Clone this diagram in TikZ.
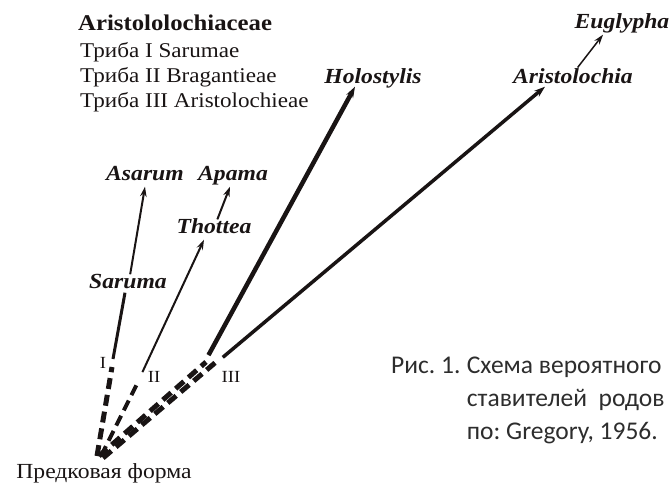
\documentclass[tikz,border=0pt]{standalone}
\usepackage{fontspec}
\setmainfont[FakeStretch=1.1]{Liberation Serif}
\newfontfamily\capfont{Carlito}
\usepackage{tikz}
\usepackage{xcolor}
\definecolor{CapGray}{RGB}{45,45,45}
\definecolor{LineBlack}{RGB}{25,20,20}
\usetikzlibrary{positioning,arrows.meta}
\frenchspacing

\begin{document}
\begin{tikzpicture}[x=1pt, y=-1pt,
    tax/.style={inner sep=2pt, text height=11pt, text depth=4pt, font=\fontsize{21.5}{24}\selectfont\bfseries\itshape, text=LineBlack},
    tr/.style={inner sep=0pt, align=left, font=\fontsize{21}{25}\selectfont, text=LineBlack},
    num/.style={inner sep=0pt, font=\fontsize{17}{18}\selectfont, text=LineBlack},
    dsh/.style={line width=5pt, dash pattern=on 11pt off 6pt, LineBlack},
    sol/.style={line width=3pt, LineBlack},
    a/.style={-{Stealth[length=10pt, width=6.5pt]}, line width=2pt, LineBlack, shorten <=1pt}
]
    \useasboundingbox (0,0) rectangle (670,485);

    % family and tribes
    \node[tr, anchor=west, font=\fontsize{22.5}{25}\selectfont\bfseries] (fam) at (78,23) {Aristololochiaceae};
    \node[tr, anchor=north west] (tribes) at (80,42) {Триба I Sarumae\\ Триба II Bragantieae\\ Триба III Aristolochieae};

    % genera
    \node[tax] (asarum) at (145,177) {Asarum};
    \node[tax] (apama) at (233,177) {Apama};
    \node[tax] (thottea) at (214,230) {Thottea};
    \node[tax] (saruma) at (128,285) {Saruma};
    \node[tax] (holo) at (373,80) {Holostylis};
    \node[tax] (aristo) at (573,80) {Aristolochia};
    \node[tax] (eugl) at (622,25) {Euglypha};

    % ancestor
    \node[tr, font=\fontsize{21.5}{25}\selectfont] (anc) at (104,473) {Предковая форма};
    \coordinate (r) at (97,456);

    % branch points
    \coordinate (dI) at (112,367);
    \coordinate (sI) at (113,359);
    \coordinate (dII) at (139,380);
    \coordinate (sII) at (142,373);
    \coordinate (dIIIa) at (206,362);
    \coordinate (sIIIa) at (208,356);
    \coordinate (dIIIb) at (216,362);
    \coordinate (sIIIb) at (222,358);

    \node[num] (nI) at (103,363) {I};
    \node[num] (nII) at (154,377) {II};
    \node[num] (nIII) at (231,377) {III};

    % dashed stems
    \draw[dsh] (r) -- (dI);
    \draw[dsh, line width=4pt] ([xshift=4pt]r) -- (dII);
    \draw[dsh] ([xshift=2pt]r) -- (dIIIa);
    \draw[dsh] ([xshift=6pt,yshift=-2pt]r) -- (dIIIb);

    % solid branches
    \draw[sol] (sI) -- ([xshift=-3pt,yshift=2pt]saruma.south);
    \draw[a] (sII) -- ([xshift=-10pt]thottea.south);
    \draw[a, line width=4.5pt, -{Stealth[length=11pt, width=7.5pt]}] (sIIIa) -- ([xshift=-18pt,yshift=3pt]holo.south);
    \draw[a, line width=3.5pt, -{Stealth[length=11pt, width=7.5pt]}] (sIIIb) -- ([xshift=-28pt,yshift=3pt]aristo.south);

    \draw[a] ([xshift=2pt]saruma.north) -- (asarum.south);
    \draw[a] ([xshift=3pt]thottea.north) -- ([xshift=-3pt]apama.south);
    \draw[a, line width=1.5pt] ([xshift=4pt,yshift=2pt]aristo.north) -- ([xshift=-19pt]eugl.south);

    % caption
    \node[anchor=north west, inner sep=0pt, font=\capfont\fontsize{25.5}{33}\selectfont, text=CapGray] (cap) at (391,350)
        {\begin{tabular}{@{}l@{\hspace{0.25em}}l@{}}Рис. 1. & Схема вероятного\\ & ставителей\ \ родов\\ & по: Gregory, 1956.\end{tabular}};
\end{tikzpicture}
\end{document}
